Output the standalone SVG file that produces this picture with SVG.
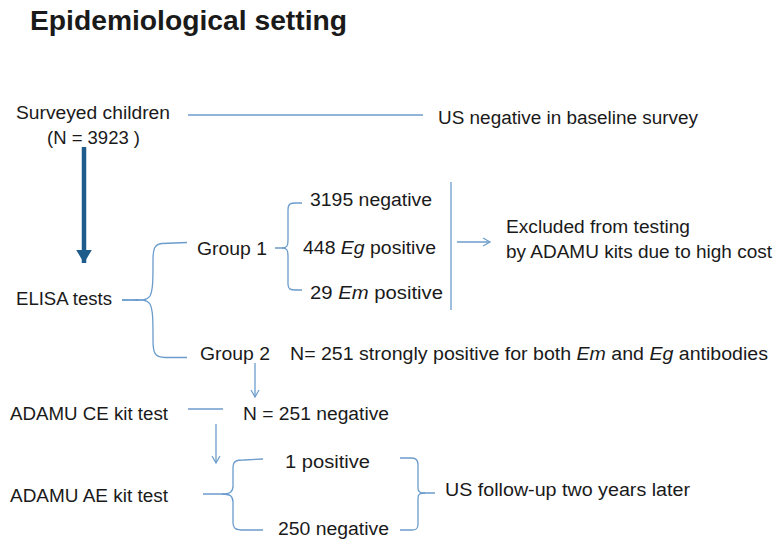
<svg xmlns="http://www.w3.org/2000/svg" width="784" height="544" viewBox="0 0 784 544">
<style>
text{font-family:"Liberation Sans",Arial,sans-serif;font-size:18px;fill:#1a1a1a}
.title{font-weight:bold;font-size:28px}
.ln{fill:none;stroke:#6b9ccc;stroke-width:1.3}
.it{font-style:italic}
</style>
<defs>
<marker id="open" markerWidth="10" markerHeight="10" refX="8" refY="5" orient="auto" markerUnits="userSpaceOnUse">
<path d="M1,1 L8,5 L1,9" fill="none" stroke="#6b9ccc" stroke-width="1.2"/>
</marker>
<marker id="thick" markerWidth="12" markerHeight="10" refX="3" refY="2.5" orient="auto" markerUnits="strokeWidth">
<path d="M0,0.7 L3,2.5 L0,4.3 Z" fill="#1f5c8c"/>
</marker>
</defs>
<rect width="784" height="544" fill="#ffffff"/>
<text class="title" x="30" y="30" textLength="317" lengthAdjust="spacingAndGlyphs">Epidemiological setting</text>

<g id="surveyed"><text x="16" y="119" textLength="154" lengthAdjust="spacingAndGlyphs">Surveyed children</text><text x="47" y="144" textLength="93" lengthAdjust="spacingAndGlyphs">(N = 3923 )</text></g>
<g id="us-baseline"><text x="438" y="124" textLength="260" lengthAdjust="spacingAndGlyphs">US negative in baseline survey</text></g>
<g id="elisa"><text x="16" y="305" textLength="96" lengthAdjust="spacingAndGlyphs">ELISA  tests</text></g>
<g id="group1"><text x="197" y="255" textLength="70" lengthAdjust="spacingAndGlyphs">Group 1</text></g>
<g id="g1-neg"><text x="310" y="206" textLength="122" lengthAdjust="spacingAndGlyphs">3195 negative</text></g>
<g id="g1-eg"><text x="303" y="254" textLength="133" lengthAdjust="spacingAndGlyphs">448 <tspan class="it">Eg</tspan> positive</text></g>
<g id="g1-em"><text x="310" y="299" textLength="133" lengthAdjust="spacingAndGlyphs">29  <tspan class="it">Em</tspan> positive</text></g>
<g id="excluded"><text x="506" y="233" textLength="184" lengthAdjust="spacingAndGlyphs">Excluded from testing</text><text x="506" y="258" textLength="266" lengthAdjust="spacingAndGlyphs">by ADAMU kits due to high cost</text></g>
<g id="group2"><text x="200" y="360" textLength="70" lengthAdjust="spacingAndGlyphs">Group 2</text></g>
<g id="g2-desc"><text x="290" y="360" textLength="478" lengthAdjust="spacingAndGlyphs">N= 251 strongly positive for both <tspan class="it">Em</tspan> and <tspan class="it">Eg</tspan> antibodies</text></g>
<g id="ce-test"><text x="10" y="420" textLength="158" lengthAdjust="spacingAndGlyphs">ADAMU CE kit test</text></g>
<g id="ce-neg"><text x="243" y="420" textLength="146" lengthAdjust="spacingAndGlyphs">N = 251 negative</text></g>
<g id="ae-test"><text x="10" y="502" textLength="158" lengthAdjust="spacingAndGlyphs">ADAMU AE kit test</text></g>
<g id="ae-pos"><text x="285" y="468" textLength="85" lengthAdjust="spacingAndGlyphs">1 positive</text></g>
<g id="ae-neg"><text x="278" y="535" textLength="111" lengthAdjust="spacingAndGlyphs">250 negative</text></g>
<g id="followup"><text x="445" y="496" textLength="245" lengthAdjust="spacingAndGlyphs">US follow-up two years later</text></g>

<g id="connectors">
<line class="ln" x1="188" y1="115" x2="423" y2="115"/>
<line x1="84" y1="147" x2="84" y2="263" stroke="#1f5c8c" stroke-width="4.5" marker-end="url(#thick)"/>
<!-- ELISA brace -->
<path class="ln" d="M122,300 C138,300 146,302 150,296 C153,290 153,280 153,260 C153,250 154,244 162,243.5 L187,242.5"/>
<path class="ln" d="M122,300 C138,300 146,298 150,304 C153,310 153,320 153,340 C153,352 154,357 165,357.5 L187,357.5"/>
<!-- Group1 brace -->
<path class="ln" d="M275,248 L282,248 C287,248 288,246 288,240 L288,210 C288,204 290,203 296,203 L302,203"/>
<path class="ln" d="M282,248 C287,248 288,250 288,256 L288,284 C288,289 290,290 296,290 L302,290"/>
<line class="ln" x1="451" y1="182" x2="451" y2="310"/>
<line class="ln" x1="457" y1="242" x2="490" y2="242" marker-end="url(#open)"/>
<!-- Group2 arrow -->
<line class="ln" x1="255" y1="363" x2="255" y2="397" marker-end="url(#open)"/>
<line class="ln" x1="188" y1="409" x2="223" y2="409"/>
<line class="ln" x1="216" y1="424" x2="216" y2="463" marker-end="url(#open)"/>
<!-- AE brace -->
<path class="ln" d="M203,494 L222,494 C230,494 233,492 233,486 L233,468 C233,461 236,460 244,460 L263,459"/>
<path class="ln" d="M222,494 C230,494 233,496 233,502 L233,522 C233,529 236,530 244,530 L263,530"/>
<!-- right brace -->
<path class="ln" d="M400,458 L412,458 C416,458 418,460 418,465 L418,488 C418,492 420,493 425,493 L435,493"/>
<path class="ln" d="M425,493 C420,493 418,494 418,498 L418,524 C418,529 416,530 412,530 L400,530"/>
</g>
</svg>
